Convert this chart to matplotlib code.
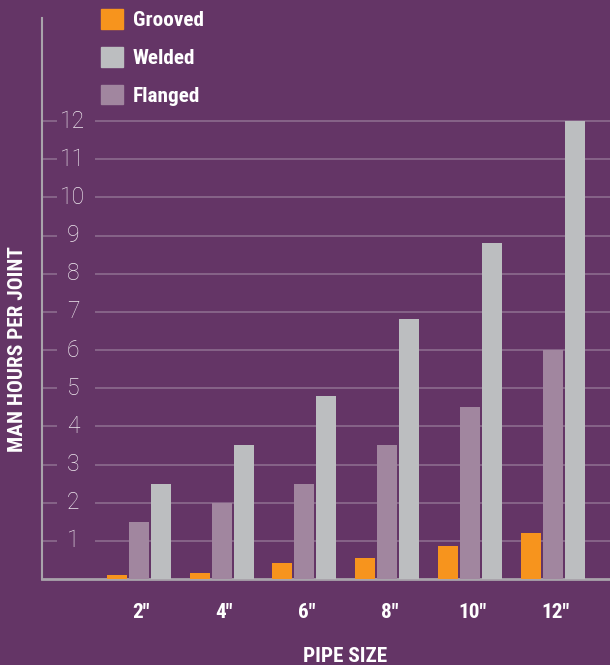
import numpy as np
from matplotlib import pyplot as plt
from matplotlib.patches import Patch
from matplotlib import font_manager

sizes = ['2"', '4"', '6"', '8"', '10"', '12"']
grooved = [0.1, 0.16, 0.43, 0.56, 0.87, 1.21]
flanged = [1.5, 2.0, 2.5, 3.5, 4.5, 6.0]
welded = [2.5, 3.5, 4.8, 6.8, 8.8, 12.0]
yticks = list(range(1, 13))

BG = "#643566"
ORANGE = "#F7941D"
GREY = "#BCBEC0"
MAUVE = "#A1869F"
GRID = "#8C6C8E"
AXIS = "#A9A4AB"

names = {f.name for f in font_manager.fontManager.ttflist}
bold_font = "DejaVu Sans"
for cand in ["Roboto Condensed", "Liberation Sans Narrow", "DejaVu Sans Condensed"]:
    if cand in names:
        bold_font = cand
        break
light_font = "Roboto" if "Roboto" in names else "DejaVu Sans"
bold_prop = dict(family=bold_font, weight="bold", stretch="condensed", size=15.3)

fig = plt.figure(figsize=(6.1, 6.65), dpi=100, facecolor=BG)
ax = fig.add_axes([42 / 610, 86 / 665, 568 / 610, 561 / 665], facecolor=BG)

x = np.arange(len(sizes))
w = 0.2415
step = 0.266
ax.bar(x - step, grooved, w, color=ORANGE, zorder=3)
ax.bar(x, flanged, w, color=MAUVE, zorder=3)
ax.bar(x + step, welded, w, color=GREY, zorder=3)

ax.set_xlim(-1.17, 5.69)
ax.set_ylim(0, 14.7)

# broken gridlines, label sits in the gap
ax.hlines(yticks, 53 / 568, 1, transform=ax.get_yaxis_transform(), color=GRID, lw=1.2, zorder=1)
ax.set_yticks(yticks)
ax.tick_params(axis="y", direction="in", length=11, width=1.2, color=GRID, labelleft=False)
for v in yticks:
    ax.text(31 / 568, v, str(v), transform=ax.get_yaxis_transform(), ha="center", va="center",
            fontsize=16.5, color="#EEE8EE", family=light_font, fontweight="light")

ax.set_xticks(x + 0.03)
ax.set_xticklabels(sizes, color="white", **bold_prop)
ax.tick_params(axis="x", length=0, pad=17)

for s in ["top", "right"]:
    ax.spines[s].set_visible(False)
ax.spines["left"].set_color(AXIS)
ax.spines["left"].set_linewidth(1.5)
ax.spines["bottom"].set_color(AXIS)
ax.spines["bottom"].set_linewidth(2)

fig.text(18 / 610, 1 - 349 / 665, "MAN HOURS PER JOINT", rotation=90, ha="center", va="center",
         color="white", **bold_prop)
fig.text(345 / 610, 1 - 656 / 665, "PIPE SIZE", ha="center", va="center",
         color="white", **bold_prop)

handles = [Patch(color=ORANGE), Patch(color=GREY), Patch(color=MAUVE)]
leg = fig.legend(handles, ["Grooved", "Welded", "Flanged"], loc="upper left",
                 bbox_to_anchor=(101 / 610, 1 - 9 / 665), frameon=False, borderpad=0,
                 borderaxespad=0, handlelength=1.05, handleheight=1.05, handletextpad=0.45,
                 labelspacing=0.79, prop=bold_prop)
for t in leg.get_texts():
    t.set_color("white")

fig.savefig("out.png", dpi=100, facecolor=BG)
